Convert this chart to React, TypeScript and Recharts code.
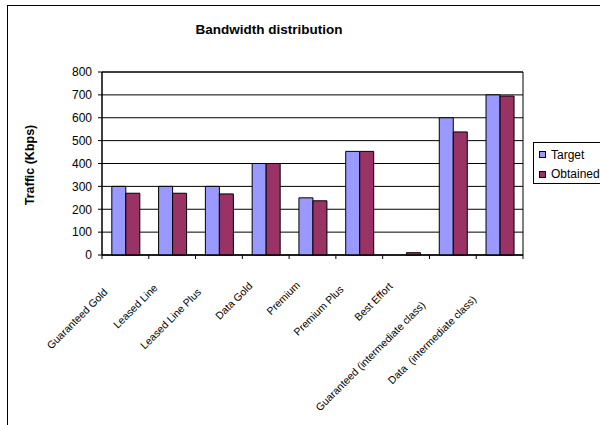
import React from 'react';
import { BarChart, Bar, XAxis, YAxis, CartesianGrid, ReferenceArea } from 'recharts';

const categories = [
  'Guaranteed Gold',
  'Leased Line',
  'Leased Line Plus',
  'Data Gold',
  'Premium',
  'Premium Plus',
  'Best Effort',
  'Guaranteed (intermediate class)',
  'Data  (intermediate class)',
];
const targetValues = [300, 300, 300, 400, 250, 453, 0, 600, 700];
const obtainedValues = [270, 270, 267, 400, 237, 453, 10, 538, 695];
const yTicks = [0, 100, 200, 300, 400, 500, 600, 700, 800];
const seriesNames = ['Target', 'Obtained'];
const seriesColors = ['#9999FF', '#993366'];
const chartTitle = 'Bandwidth distribution';
const yAxisTitle = 'Traffic (Kbps)';

const data = categories.map((c, i) => ({
  name: c,
  target: targetValues[i],
  obtained: obtainedValues[i],
}));

const FONT = "'Liberation Sans', Arial, Helvetica, sans-serif";

let measureCtx: CanvasRenderingContext2D | null = null;
function measure(s: string): number {
  try {
    if (!measureCtx) measureCtx = document.createElement('canvas').getContext('2d');
    if (measureCtx) {
      measureCtx.font = `10px ${FONT}`;
      return measureCtx.measureText(s).width;
    }
  } catch (e) {
    /* ignore */
  }
  return s.length * 5.3;
}

function CategoryTick(props: any) {
  const { x, y, payload, index } = props;
  const half = payload && typeof payload.offset === 'number' && payload.offset > 0 ? payload.offset : 23.4;
  const label = String(payload.value);
  const w = measure(label);
  const ex = x - 6 - 0.146 * w;
  const ey = y + 23 + 0.194 * w;
  return (
    <g>
      <line x1={x + half} y1={y} x2={x + half} y2={y + 4} stroke="#000" strokeWidth={1} />
      {index === 0 && <line x1={x - half} y1={y} x2={x - half} y2={y + 4} stroke="#000" strokeWidth={1} />}
      <text
        x={ex}
        y={ey}
        transform={`rotate(-45 ${ex} ${ey})`}
        textAnchor="end"
        fontSize={10.5}
        fontFamily={FONT}
        fill="#000"
        style={{ whiteSpace: 'pre' }}
      >
        {label}
      </text>
    </g>
  );
}

export default function App() {
  return (
    <div
      style={{
        position: 'absolute',
        left: 0,
        top: 0,
        width: 600,
        height: 425,
        overflow: 'hidden',
        background: '#fff',
        fontFamily: FONT,
      }}
    >
      <div
        style={{
          position: 'absolute',
          left: 7,
          top: 5,
          width: 700,
          height: 500,
          border: '1px solid #000',
          boxSizing: 'border-box',
        }}
      />
      <div
        style={{
          position: 'absolute',
          left: 0,
          top: 22,
          width: 538,
          textAlign: 'center',
          fontSize: 13.5,
          lineHeight: '16px',
          fontWeight: 'bold',
          color: '#000',
        }}
      >
        {chartTitle}
      </div>
      <div
        style={{
          position: 'absolute',
          left: 30.2 - 100,
          top: 164.5 - 8,
          width: 200,
          height: 16,
          textAlign: 'center',
          fontSize: 12.5,
          lineHeight: '16px',
          fontWeight: 'bold',
          color: '#000',
          transform: 'rotate(-90deg)',
          whiteSpace: 'nowrap',
        }}
      >
        {yAxisTitle}
      </div>
      <div style={{ position: 'absolute', left: 0, top: 0 }}>
        <BarChart
          width={600}
          height={425}
          data={data}
          margin={{ top: 72, right: 77, bottom: 70, left: 42 }}
          barGap={0}
          barCategoryGap="21%"
        >
          <CartesianGrid vertical={false} stroke="#000" strokeOpacity={1} />
          <XAxis
            dataKey="name"
            height={100}
            interval={0}
            tickLine={false}
            tickSize={0}
            tickMargin={0}
            axisLine={{ stroke: '#000' }}
            tick={<CategoryTick />}
          />
          <YAxis
            width={60}
            domain={[0, 800]}
            ticks={yTicks}
            interval={0}
            tickSize={4}
            tickMargin={6}
            axisLine={{ stroke: '#000' }}
            tickLine={{ stroke: '#000' }}
            tick={{ fill: '#000', fontSize: 12, fontFamily: FONT }}
          />
          <ReferenceArea y1={0} y2={800} fill="none" stroke="#000" strokeWidth={1} ifOverflow="visible" />
          <Bar
            dataKey="target"
            name={seriesNames[0]}
            fill={seriesColors[0]}
            stroke="#000"
            strokeWidth={1}
            isAnimationActive={false}
          />
          <Bar
            dataKey="obtained"
            name={seriesNames[1]}
            fill={seriesColors[1]}
            stroke="#000"
            strokeWidth={1}
            isAnimationActive={false}
          />
        </BarChart>
      </div>
      <div
        style={{
          position: 'absolute',
          left: 533,
          top: 142,
          width: 100,
          height: 42,
          border: '1px solid #000',
          boxSizing: 'border-box',
          background: '#fff',
        }}
      >
        {seriesNames.map((n, i) => (
          <div
            key={n}
            style={{
              position: 'absolute',
              left: 5,
              top: 3.5 + i * 19.5,
              height: 16,
              display: 'flex',
              alignItems: 'center',
              fontSize: 12,
              lineHeight: '16px',
              color: '#000',
              whiteSpace: 'nowrap',
            }}
          >
            <span
              style={{
                display: 'inline-block',
                width: 7,
                height: 7,
                boxSizing: 'border-box',
                border: '1px solid #000',
                background: seriesColors[i],
                marginRight: 5,
              }}
            />
            {n}
          </div>
        ))}
      </div>
    </div>
  );
}
